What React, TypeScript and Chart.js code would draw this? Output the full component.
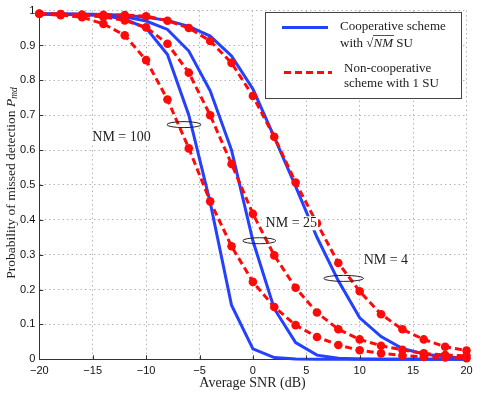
import { useEffect, useRef } from 'react';
import { Chart, registerables } from 'chart.js';

Chart.register(...registerables);

// ---------------- data ----------------
const snr = [-20, -18, -16, -14, -12, -10, -8, -6, -4, -2, 0, 2, 4, 6, 8, 10, 12, 14, 16, 18, 20];

const coop100 = [0.990, 0.989, 0.988, 0.986, 0.975, 0.950, 0.874, 0.700, 0.450, 0.155, 0.030, 0.005, 0.001, 0, 0, 0, 0, 0, 0, 0, 0];
const coop25 = [0.990, 0.990, 0.989, 0.988, 0.982, 0.970, 0.946, 0.884, 0.770, 0.600, 0.340, 0.145, 0.048, 0.012, 0.003, 0.001, 0, 0, 0, 0, 0];
const coop4 = [0.990, 0.990, 0.990, 0.989, 0.987, 0.981, 0.972, 0.955, 0.927, 0.870, 0.775, 0.637, 0.496, 0.350, 0.225, 0.119, 0.065, 0.031, 0.015, 0.007, 0.003];

const nonCoop100 = [0.991, 0.987, 0.981, 0.962, 0.929, 0.858, 0.745, 0.605, 0.453, 0.324, 0.222, 0.150, 0.098, 0.064, 0.041, 0.026, 0.017, 0.011, 0.007, 0.005, 0.003];
const nonCoop25 = [0.991, 0.989, 0.986, 0.982, 0.972, 0.952, 0.905, 0.822, 0.700, 0.560, 0.417, 0.298, 0.205, 0.134, 0.086, 0.057, 0.039, 0.027, 0.017, 0.012, 0.010];
const nonCoop4 = [0.991, 0.990, 0.989, 0.988, 0.987, 0.984, 0.971, 0.950, 0.913, 0.850, 0.755, 0.638, 0.507, 0.390, 0.276, 0.195, 0.129, 0.086, 0.057, 0.036, 0.025];

const xTicks = [-20, -15, -10, -5, 0, 5, 10, 15, 20];
const yTicks = [0, 0.1, 0.2, 0.3, 0.4, 0.5, 0.6, 0.7, 0.8, 0.9, 1];

const xTitle = 'Average SNR (dB)';
const yTitle = 'Probability of missed detection ';
const legendCoop = ['Cooperative scheme', 'with ', 'NM', ' SU'];
const legendNonCoop = ['Non-cooperative', 'scheme with 1 SU'];

// group labels: text anchor (data coords) and ellipse centre (data coords)
const groupLabels = [
  { text: 'NM = 100', x: -12.3, y: 0.636, ex: -6.45, ey: 0.673, erx: 1.6 },
  { text: 'NM = 25', x: 3.6, y: 0.39, ex: 0.6, ey: 0.34, erx: 1.55 },
  { text: 'NM = 4', x: 12.45, y: 0.284, ex: 8.5, ey: 0.232, erx: 1.87 },
];

// ---------------- styles ----------------
const SERIF = '"Liberation Serif", "DejaVu Serif", serif';
const SANS = '"Liberation Sans", Arial, sans-serif';
const BLUE = 'rgb(35,65,255)';
const RED = 'rgb(255,10,10)';

const pts = (ys: number[]) => snr.map((x, i) => ({ x, y: ys[i] }));

const fmtX = (v: number) => (v < 0 ? '\u2212' + Math.abs(v) : String(v));

export default function App() {
  const ref = useRef<HTMLCanvasElement>(null);

  useEffect(() => {
    const canvas = ref.current;
    if (!canvas) return;

    const overlay = {
      id: 'overlay',
      afterDraw(chart: any) {
        const ctx = chart.ctx as CanvasRenderingContext2D;
        const xs = chart.scales.x;
        const ys = chart.scales.y;
        const area = chart.chartArea;
        ctx.save();

        // inward tick marks
        ctx.strokeStyle = '#333';
        ctx.lineWidth = 1;
        ctx.beginPath();
        xTicks.forEach((v) => {
          const px = Math.round(xs.getPixelForValue(v)) + 0.5;
          ctx.moveTo(px, area.bottom);
          ctx.lineTo(px, area.bottom - 4);
        });
        yTicks.forEach((v) => {
          const py = Math.round(ys.getPixelForValue(v)) + 0.5;
          ctx.moveTo(area.left, py);
          ctx.lineTo(area.left + 4, py);
        });
        ctx.stroke();

        // ellipses + group labels
        groupLabels.forEach((g) => {
          const cx = xs.getPixelForValue(g.ex);
          const cy = ys.getPixelForValue(g.ey);
          const rx = Math.abs(xs.getPixelForValue(g.ex + g.erx) - cx);
          ctx.beginPath();
          ctx.ellipse(cx, cy, rx, 3, 0, 0, Math.PI * 2);
          ctx.strokeStyle = '#222';
          ctx.lineWidth = 1;
          ctx.stroke();

          ctx.font = `14px ${SERIF}`;
          const w = ctx.measureText(g.text).width;
          const tx = xs.getPixelForValue(g.x);
          const ty = ys.getPixelForValue(g.y);
          ctx.fillStyle = '#fff';
          ctx.fillRect(tx - w / 2 - 1, ty - 7, w + 2, 14);
          ctx.fillStyle = '#222';
          ctx.textAlign = 'center';
          ctx.textBaseline = 'middle';
          ctx.fillText(g.text, tx, ty);
        });

        // legend
        const lx0 = 265.5, ly0 = 12.5, lx1 = 461.5, ly1 = 98.5;
        ctx.fillStyle = '#fff';
        ctx.fillRect(lx0, ly0, lx1 - lx0, ly1 - ly0);
        ctx.strokeStyle = '#444';
        ctx.lineWidth = 1;
        ctx.strokeRect(lx0, ly0, lx1 - lx0, ly1 - ly0);

        ctx.strokeStyle = BLUE;
        ctx.lineWidth = 3;
        ctx.setLineDash([]);
        ctx.beginPath();
        ctx.moveTo(282, 27.5);
        ctx.lineTo(328, 27.5);
        ctx.stroke();

        ctx.strokeStyle = RED;
        ctx.setLineDash([7, 4]);
        ctx.beginPath();
        ctx.moveTo(284, 72.5);
        ctx.lineTo(332, 72.5);
        ctx.stroke();
        ctx.setLineDash([]);

        ctx.fillStyle = '#222';
        ctx.textAlign = 'left';
        ctx.textBaseline = 'middle';
        ctx.font = `13px ${SERIF}`;
        ctx.fillText(legendCoop[0], 340, 26.5);
        let cx = 340;
        ctx.fillText(legendCoop[1], cx, 43.5);
        cx += ctx.measureText(legendCoop[1]).width;
        ctx.fillText('\u221A', cx, 43.5);
        cx += ctx.measureText('\u221A').width;
        ctx.font = `italic 13px ${SERIF}`;
        const nmW = ctx.measureText(legendCoop[2]).width;
        ctx.fillText(legendCoop[2], cx, 44);
        ctx.strokeStyle = '#222';
        ctx.lineWidth = 0.8;
        ctx.beginPath();
        ctx.moveTo(cx - 0.5, 35.5);
        ctx.lineTo(cx + nmW + 1, 35.5);
        ctx.stroke();
        cx += nmW;
        ctx.font = `13px ${SERIF}`;
        ctx.fillText(legendCoop[3], cx, 43.5);

        ctx.fillText(legendNonCoop[0], 344, 68.5);
        ctx.fillText(legendNonCoop[1], 344, 83.5);

        // x title
        ctx.font = `14px ${SERIF}`;
        ctx.textAlign = 'center';
        ctx.fillText(xTitle, 252.5, 383);

        // y title (rotated)
        ctx.save();
        ctx.translate(11, 183);
        ctx.rotate(-Math.PI / 2);
        ctx.textAlign = 'left';
        ctx.font = `13.5px ${SERIF}`;
        const w1 = ctx.measureText(yTitle).width;
        ctx.font = `italic 13.5px ${SERIF}`;
        const wP = ctx.measureText('P').width;
        ctx.font = `italic 9.5px ${SERIF}`;
        const wSub = ctx.measureText('md').width;
        const total = w1 + wP + wSub;
        let sx = -total / 2;
        ctx.font = `13.5px ${SERIF}`;
        ctx.fillText(yTitle, sx, 0);
        sx += w1;
        ctx.font = `italic 13.5px ${SERIF}`;
        ctx.fillText('P', sx, 0);
        sx += wP;
        ctx.font = `italic 9.5px ${SERIF}`;
        ctx.fillText('md', sx, 3.5);
        ctx.restore();

        ctx.restore();
      },
    };

    const blue = (data: number[]) => ({
      data: pts(data),
      borderColor: BLUE,
      backgroundColor: BLUE,
      borderWidth: 3,
      pointRadius: 0,
      tension: 0,
      fill: false,
      clip: false as any,
      order: 1,
    });
    const red = (data: number[]) => ({
      data: pts(data),
      borderColor: RED,
      backgroundColor: RED,
      borderWidth: 3,
      borderDash: [7, 4],
      pointRadius: 4.3,
      pointBackgroundColor: RED,
      pointBorderColor: RED,
      pointBorderWidth: 0,
      tension: 0,
      fill: false,
      clip: false as any,
      order: 0,
    });

    const chart = new Chart(canvas, {
      type: 'line',
      data: {
        datasets: [
          blue(coop100), blue(coop25), blue(coop4),
          red(nonCoop100), red(nonCoop25), red(nonCoop4),
        ] as any,
      },
      options: {
        responsive: false,
        maintainAspectRatio: false,
        devicePixelRatio: 1,
        animation: false,
        events: [],
        layout: { padding: { left: 0, top: 8.3, right: 18.5, bottom: 0 } },
        plugins: { legend: { display: false }, tooltip: { enabled: false } },
        scales: {
          x: {
            type: 'linear',
            min: -20,
            max: 20,
            afterBuildTicks: (s: any) => { s.ticks = xTicks.map((value) => ({ value })); },
            afterFit: (s: any) => { s.height = 39.7; },
            ticks: {
              font: { family: SANS, size: 11 },
              color: '#111',
              padding: 5,
              maxRotation: 0,
              autoSkip: false,
              callback: (v: any) => fmtX(Number(v)),
            },
            grid: { color: '#b4b4b4', lineWidth: 1, drawTicks: false },
            border: { display: true, color: '#333', width: 1, dash: [1.5, 3] },
          },
          y: {
            type: 'linear',
            min: 0,
            max: 1,
            afterBuildTicks: (s: any) => { s.ticks = yTicks.map((value) => ({ value })); },
            afterFit: (s: any) => { s.width = 39.3; },
            ticks: {
              font: { family: SANS, size: 11 },
              color: '#111',
              padding: 4,
              autoSkip: false,
              callback: (v: any) => String(v),
            },
            grid: { color: '#b4b4b4', lineWidth: 1, drawTicks: false },
            border: { display: true, color: '#333', width: 1, dash: [1.5, 3] },
          },
        },
      } as any,
      plugins: [overlay],
    });

    return () => chart.destroy();
  }, []);

  return (
    <div style={{ position: 'absolute', left: 0, top: 0, width: 485, height: 399, background: '#fff' }}>
      <canvas ref={ref} width={485} height={399} style={{ width: 485, height: 399, display: 'block' }} />
    </div>
  );
}
